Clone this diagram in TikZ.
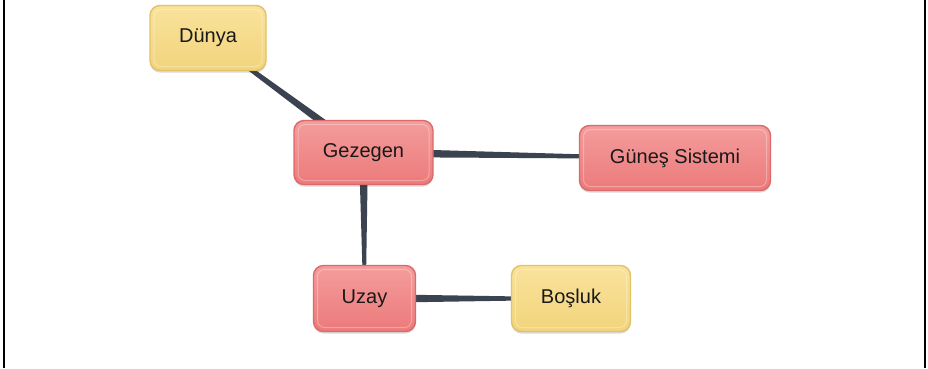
\documentclass[tikz,border=0pt]{standalone}
\usepackage{fontspec}
\setmainfont{Liberation Sans}
\usetikzlibrary{calc,backgrounds,shadows}

\definecolor{redtop}{HTML}{F49C9C}
\definecolor{redbot}{HTML}{EC7A7A}
\definecolor{redline}{HTML}{DC6A6A}
\definecolor{yeltop}{HTML}{F9E29B}
\definecolor{yelbot}{HTML}{F2D47C}
\definecolor{yelline}{HTML}{E2C266}
\definecolor{linkcol}{HTML}{3C4350}

\tikzset{
  topic/.style={rounded corners=10pt, line width=1.4pt, align=center,
    font=\fontsize{20}{24}\selectfont, text=black!90,
    drop shadow={shadow xshift=0pt, shadow yshift=-2pt, opacity=0.15, fill=black},
    path picture={\draw[white, opacity=0.3, line width=1pt, rounded corners=7pt]
      ([shift={(4pt,-4pt)}]path picture bounding box.north west) rectangle
      ([shift={(-4pt,4pt)}]path picture bounding box.south east);}},
  redtopic/.style={topic, draw=redline, top color=redtop, bottom color=redbot},
  yeltopic/.style={topic, draw=yelline, top color=yeltop, bottom color=yelbot},
  link/.style={fill=linkcol},
  frameline/.style={line width=2pt, black}
}

% tapered connector: wide half-width #3 at #1, narrow half-width #4 at #2
\newcommand\taperlink[4]{%
  \fill[link] ($(#1.center)!#3!90:(#2.center)$) -- ($(#2.center)!#4!-90:(#1.center)$)
    -- ($(#2.center)!#4!90:(#1.center)$) -- ($(#1.center)!#3!-90:(#2.center)$) -- cycle;}

\begin{document}
\begin{tikzpicture}[x=1pt,y=-1pt]
  \useasboundingbox (0,0) rectangle (928,368);

  % side frame lines
  \coordinate (fl1) at (4,0);
  \coordinate (fl2) at (4,368);
  \coordinate (fr1) at (925,0);
  \coordinate (fr2) at (925,368);
  \draw[frameline] (fl1) -- (fl2);
  \draw[frameline] (fr1) -- (fr2);

  % topics
  \node[yeltopic, minimum width=116pt, minimum height=65pt] (dunya) at (208,38) {Dünya};
  \node[redtopic, minimum width=139pt, minimum height=64pt] (gezegen) at (363.5,152.5) {Gezegen};
  \node[redtopic, minimum width=191pt, minimum height=65pt] (gunes) at (675,158) {Güneş Sistemi};
  \node[redtopic, minimum width=102pt, minimum height=66pt] (uzay) at (364.5,298.5) {Uzay};
  \node[yeltopic, minimum width=119pt, minimum height=66pt] (bosluk) at (571,298.5) {Boşluk};

  % connectors behind the topics
  \begin{scope}[on background layer]
    \fill[white] (0,0) rectangle (928,368);
    \taperlink{gezegen}{dunya}{4.5pt}{1.5pt}
    \taperlink{gezegen}{gunes}{4.5pt}{1pt}
    \taperlink{gezegen}{uzay}{4.5pt}{1.2pt}
    \taperlink{uzay}{bosluk}{4.5pt}{1.2pt}
  \end{scope}
\end{tikzpicture}
\end{document}
